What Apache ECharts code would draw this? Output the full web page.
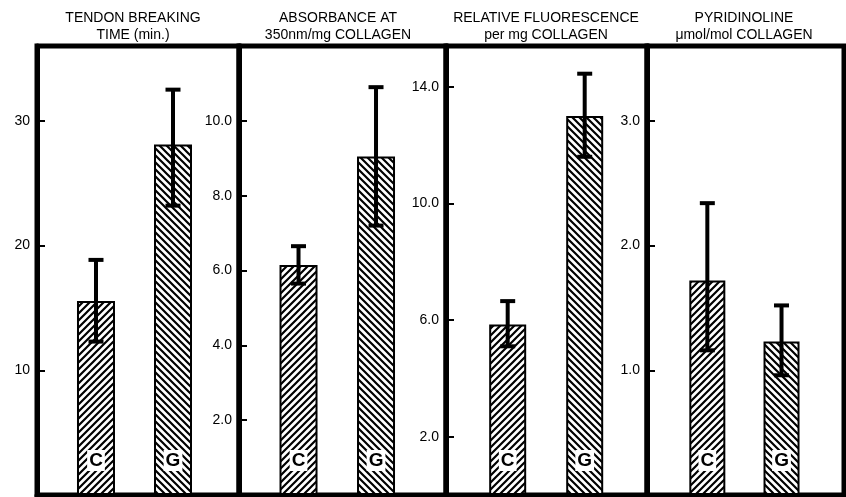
<!DOCTYPE html>
<html>
<head>
<meta charset="utf-8">
<style>html,body{margin:0;padding:0;background:#fff;}#chart{width:846px;height:497px;}</style>
<script src="https://cdn.jsdelivr.net/npm/echarts@6/dist/echarts.min.js"></script>
</head>
<body>
<div id="chart"></div>
<script>
// ---- data ----
const categories = ['C', 'G'];
const panelTitles = [
  'TENDON BREAKING\nTIME (min.)',
  'ABSORBANCE AT\n350nm/mg COLLAGEN',
  'RELATIVE FLUORESCENCE\nper mg COLLAGEN',
  'PYRIDINOLINE\nμmol/mol COLLAGEN'
];
const tendonMean = [15.55, 28.1];
const tendonLow = [12.3, 23.2];
const tendonHigh = [18.85, 32.5];
const absorbMean = [6.15, 9.05];
const absorbLow = [5.65, 7.2];
const absorbHigh = [6.65, 10.9];
const fluorMean = [5.85, 13.0];
const fluorLow = [5.1, 11.6];
const fluorHigh = [6.65, 14.45];
const pyrMean = [1.72, 1.23];
const pyrLow = [1.16, 0.96];
const pyrHigh = [2.34, 1.52];
const tendonTicks = [10, 20, 30];
const absorbTicks = [2, 4, 6, 8, 10];
const fluorTicks = [2, 6, 10, 14];
const pyrTicks = [1, 2, 3];
const axisMax = [36, 12, 15.4, 3.6];
const labelDecimals = [0, 1, 1, 1];

// ---- layout ----
const gridLeft = [37, 239, 446, 647];
const gridWidth = [202, 207, 201, 197];
const xRange = [[-0.766, 1.857], [-0.768, 1.903], [-0.801, 1.809], [-0.813, 1.842]];
const titleX = [133, 338, 546, 744];
const barW = [38, 38, 37, 36];

const means = [tendonMean, absorbMean, fluorMean, pyrMean];
const lows = [tendonLow, absorbLow, fluorLow, pyrLow];
const highs = [tendonHigh, absorbHigh, fluorHigh, pyrHigh];
const ticks = [tendonTicks, absorbTicks, fluorTicks, pyrTicks];

function hatch(forward) {
  const s = 7;
  const c = document.createElement('canvas');
  c.width = s; c.height = s;
  const g = c.getContext('2d');
  g.fillStyle = '#fff';
  g.fillRect(0, 0, s, s);
  g.strokeStyle = '#000';
  g.lineWidth = 2.2;
  g.beginPath();
  if (forward) {
    g.moveTo(-1, s + 1); g.lineTo(s + 1, -1);
    g.moveTo(-2, 2); g.lineTo(2, -2);
    g.moveTo(s - 2, s + 2); g.lineTo(s + 2, s - 2);
  } else {
    g.moveTo(-1, -1); g.lineTo(s + 1, s + 1);
    g.moveTo(-2, s - 2); g.lineTo(2, s + 2);
    g.moveTo(s - 2, -2); g.lineTo(s + 2, 2);
  }
  g.stroke();
  return { image: c, repeat: 'repeat' };
}
const patterns = [hatch(true), hatch(false)];

const font = '"Liberation Sans", Arial, sans-serif';
const grid = [], xAxis = [], yAxis = [], series = [], graphic = [];

for (let p = 0; p < 4; p++) {
  grid.push({
    left: gridLeft[p], width: gridWidth[p], top: 46, bottom: 2,
    show: true, borderColor: '#000', borderWidth: 5, backgroundColor: 'transparent'
  });
  xAxis.push({
    type: 'value', gridIndex: p, min: xRange[p][0], max: xRange[p][1],
    z: 10,
    axisLine: { show: true, onZero: false, lineStyle: { color: '#000', width: 5 } },
    axisTick: { show: false }, axisLabel: { show: false }, splitLine: { show: false }
  });
  const dec = labelDecimals[p];
  yAxis.push({
    type: 'value', gridIndex: p, min: 0, max: axisMax[p],
    z: 10,
    axisLine: { show: true, onZero: false, lineStyle: { color: '#000', width: 5 } },
    axisTick: { show: true, inside: true, length: 8, customValues: ticks[p], lineStyle: { color: '#000', width: 2 } },
    axisLabel: {
      show: true, customValues: ticks[p], margin: 7, color: '#000', fontSize: 14, fontFamily: font,
      formatter: v => Number(v).toFixed(dec)
    },
    splitLine: { show: false }
  });
  series.push({
    type: 'bar', xAxisIndex: p, yAxisIndex: p, barWidth: barW[p],
    data: means[p].map((v, i) => ({ value: [i, v], itemStyle: { color: patterns[i] } })),
    itemStyle: { borderColor: '#000', borderWidth: 2 },
    label: {
      show: true, position: 'insideBottom', distance: 24,
      formatter: prm => categories[prm.dataIndex],
      color: '#000', fontSize: 19, fontWeight: 'bold', fontFamily: font,
      backgroundColor: '#fff', padding: [1, 2]
    },
    silent: true, animation: false
  });
  series.push({
    type: 'custom', xAxisIndex: p, yAxisIndex: p, z: 5,
    data: lows[p].map((lo, i) => [i, lo, highs[p][i]]),
    encode: { x: 0, y: [1, 2] },
    renderItem: (params, api) => {
      const x = api.value(0);
      const a = api.coord([x, api.value(1)]);
      const b = api.coord([x, api.value(2)]);
      const h = 7.5;
      const st = { stroke: '#000', lineWidth: 4 };
      return {
        type: 'group', children: [
          { type: 'line', shape: { x1: a[0], y1: a[1], x2: b[0], y2: b[1] }, style: st },
          { type: 'line', shape: { x1: b[0] - h, y1: b[1], x2: b[0] + h, y2: b[1] }, style: st },
          { type: 'line', shape: { x1: a[0] - h, y1: a[1], x2: a[0] + h, y2: a[1] }, style: st }
        ]
      };
    },
    silent: true, animation: false
  });
  graphic.push({
    type: 'text', x: titleX[p], y: 9,
    style: {
      text: panelTitles[p], textAlign: 'center', textVerticalAlign: 'top',
      font: '14px ' + font, lineHeight: 17.5, fill: '#000'
    }
  });
}

const chart = echarts.init(document.getElementById('chart'), null, { renderer: 'canvas' });
chart.setOption({ animation: false, backgroundColor: '#fff', grid, xAxis, yAxis, series, graphic });
</script>
</body>
</html>
